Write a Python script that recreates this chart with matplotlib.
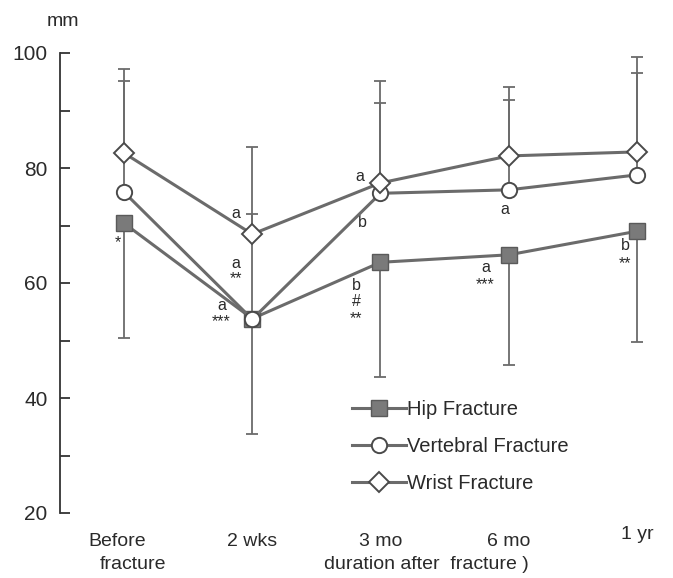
import matplotlib.pyplot as plt
import numpy as np

plt.rcParams['font.family'] = ['Liberation Sans', 'DejaVu Sans']

# time points after fracture
timepoints = ["Before\nfracture", "2 wks", "3 mo", "6 mo", "1 yr"]

# mean values (mm) per group
hip = [70.4, 53.8, 63.6, 64.9, 69.0]
vertebral = [75.8, 53.7, 75.6, 76.2, 78.8]
wrist = [82.6, 68.5, 77.4, 82.1, 82.8]

# standard deviations, drawn one-sided
hip_sd = [20.0, 20.1, 20.0, 19.2, 19.3]
vertebral_sd = [19.3, 18.3, 15.7, 15.6, 17.7]
wrist_sd = [14.6, 15.2, 17.7, 12.0, 16.5]

line_col = '#6b6b6b'
text_col = '#2a2a2a'

fig = plt.figure(figsize=(6.73, 5.78), dpi=100)
ax = fig.add_axes([60 / 673, 65 / 578, 609 / 673, 460 / 578])
x = np.arange(len(timepoints))
zero = np.zeros(len(x))

eb = dict(fmt='none', ecolor=line_col, elinewidth=1.3, capsize=4.3,
          capthick=1.3, zorder=1, clip_on=False)
ax.errorbar(x, hip, yerr=[hip_sd, zero], **eb)
ax.errorbar(x, vertebral, yerr=[zero, vertebral_sd], **eb)
ax.errorbar(x, wrist, yerr=[zero, wrist_sd], **eb)

ax.plot(x, hip, color=line_col, lw=2.2, marker='s', ms=12, mfc='#7a7a7a',
        mec='#5a5a5a', mew=1, label='Hip Fracture', zorder=3, clip_on=False)
ax.plot(x, vertebral, color=line_col, lw=2.2, marker='o', ms=11, mfc='white',
        mec='#4a4a4a', mew=1.4, label='Vertebral Fracture', zorder=4, clip_on=False)
ax.plot(x, wrist, color=line_col, lw=2.2, marker='D', ms=10, mfc='white',
        mec='#4a4a4a', mew=1.4, label='Wrist Fracture', zorder=5, clip_on=False)

ax.set_xlim(-0.499, 4.25)
ax.set_ylim(20, 100)

for s in ['top', 'right', 'bottom']:
    ax.spines[s].set_visible(False)
ax.spines['left'].set_color('#333333')
ax.spines['left'].set_linewidth(1.3)
ax.set_yticks([20, 40, 60, 80, 100])
ax.set_yticks([30, 50, 70, 90], minor=True)
ax.tick_params(axis='y', which='both', direction='in', length=7, width=1.3,
               color='#333333', labelsize=15, labelcolor=text_col, pad=9)
ax.set_xticks([])

fig.text(63 / 673, 1 - 21 / 578, "mm", fontsize=14, color=text_col,
         ha='center', va='center')

# x labels written as text to keep the staggered first label
xl = dict(fontsize=14, color=text_col, ha='center', va='center')
ax.text(-0.055, 15.0, "Before", **xl)
ax.text(0.07, 11.0, "fracture", **xl)
for i in range(1, 4):
    ax.text(i, 15.0, timepoints[i], **xl)
ax.text(4, 16.2, timepoints[4], **xl)
ax.text(2.36, 11.0, "duration after  fracture )", **xl)

# group letters and significance stars
an = dict(fontsize=11.5, color=text_col, ha='center', va='center')
ax.text(-0.05, 67.0, "*", **an)
ax.text(0.87, 72.0, "a", **an)
ax.text(0.87, 63.4, "a", **an)
ax.text(0.87, 60.8, "**", **an)
ax.text(0.76, 56.0, "a", **an)
ax.text(0.76, 53.3, "***", **an)
ax.text(1.84, 78.5, "a", **an)
ax.text(1.86, 70.6, "b", **an)
ax.text(1.81, 59.5, "b", **an)
ax.text(1.81, 56.8, "#", **an)
ax.text(1.81, 53.8, "**", **an)
ax.text(2.97, 72.8, "a", **an)
ax.text(2.82, 62.7, "a", **an)
ax.text(2.82, 59.8, "***", **an)
ax.text(3.91, 66.5, "b", **an)
ax.text(3.91, 63.3, "**", **an)

ax.legend(loc='upper left', bbox_to_anchor=(0.4795, 0.245),
          frameon=False, fontsize=14.5, labelcolor=text_col,
          handlelength=2.7, handletextpad=0.05, labelspacing=0.88,
          borderaxespad=0, borderpad=0)

fig.savefig('out.png', dpi=100)
